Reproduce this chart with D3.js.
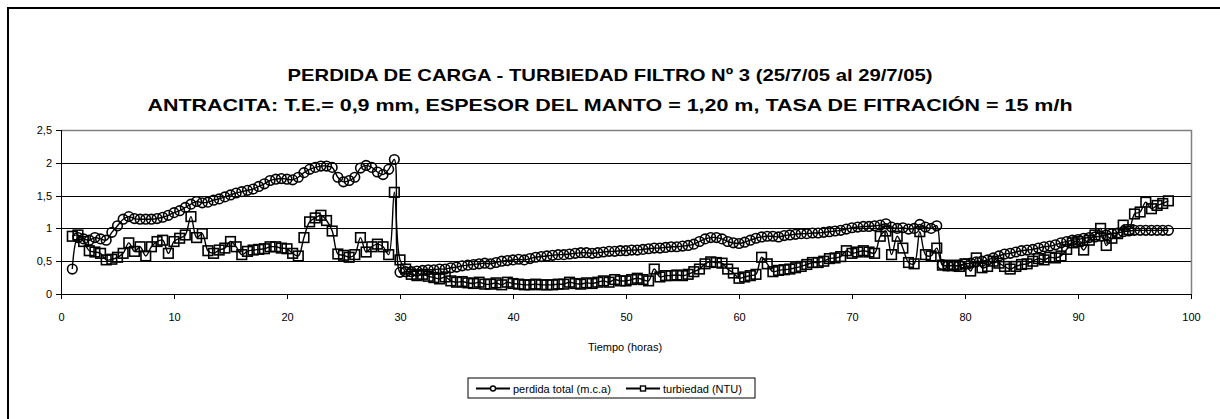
<!DOCTYPE html>
<meta charset="utf-8">
<style>
body { margin: 0; background: #fff; }
svg text { font-family: "Liberation Sans", Arial, sans-serif; fill: #000; }
.title { font-weight: bold; font-size: 17px; }
.tick text { font-size: 11px; }
.axis path, .axis line { stroke: #000; shape-rendering: crispEdges; }
.grid line { stroke: #000; shape-rendering: crispEdges; }
.serie { fill: none; stroke: #000; stroke-width: 1.4px; }
.mark { fill: none; stroke: #000; stroke-width: 1.6px; }
</style>
<svg width="1220" height="419"></svg>
<script src="https://cdn.jsdelivr.net/npm/d3@7"></script>
<script>

// tiempo (horas)
let horas = [
  1, 1.5, 2, 2.5, 3, 3.5, 4, 4.5, 5, 5.5, 6, 6.5, 7, 7.5, 8, 8.5, 9, 9.5, 10, 10.5,
  11, 11.5, 12, 12.5, 13, 13.5, 14, 14.5, 15, 15.5, 16, 16.5, 17, 17.5, 18, 18.5, 19, 19.5, 20, 20.5,
  21, 21.5, 22, 22.5, 23, 23.5, 24, 24.5, 25, 25.5, 26, 26.5, 27, 27.5, 28, 28.5, 29, 29.5, 30, 30.5,
  31, 31.5, 32, 32.5, 33, 33.5, 34, 34.5, 35, 35.5, 36, 36.5, 37, 37.5, 38, 38.5, 39, 39.5, 40, 40.5,
  41, 41.5, 42, 42.5, 43, 43.5, 44, 44.5, 45, 45.5, 46, 46.5, 47, 47.5, 48, 48.5, 49, 49.5, 50, 50.5,
  51, 51.5, 52, 52.5, 53, 53.5, 54, 54.5, 55, 55.5, 56, 56.5, 57, 57.5, 58, 58.5, 59, 59.5, 60, 60.5,
  61, 61.5, 62, 62.5, 63, 63.5, 64, 64.5, 65, 65.5, 66, 66.5, 67, 67.5, 68, 68.5, 69, 69.5, 70, 70.5,
  71, 71.5, 72, 72.5, 73, 73.5, 74, 74.5, 75, 75.5, 76, 76.5, 77, 77.5, 78, 78.5, 79, 79.5, 80, 80.5,
  81, 81.5, 82, 82.5, 83, 83.5, 84, 84.5, 85, 85.5, 86, 86.5, 87, 87.5, 88, 88.5, 89, 89.5, 90, 90.5,
  91, 91.5, 92, 92.5, 93, 93.5, 94, 94.5, 95, 95.5, 96, 96.5, 97, 97.5, 98
];

// perdida total (m.c.a)
let perdida = [
  0.38, 0.86, 0.84, 0.82, 0.86, 0.84, 0.82, 0.94, 1.04, 1.14, 1.18, 1.15, 1.14, 1.14, 1.14, 1.15, 1.17, 1.20, 1.24, 1.27,
  1.32, 1.37, 1.41, 1.39, 1.40, 1.43, 1.45, 1.48, 1.51, 1.54, 1.56, 1.58, 1.60, 1.64, 1.68, 1.73, 1.75, 1.76, 1.75, 1.74,
  1.78, 1.85, 1.90, 1.93, 1.95, 1.95, 1.93, 1.78, 1.71, 1.73, 1.78, 1.92, 1.96, 1.93, 1.86, 1.82, 1.90, 2.05, 0.33, 0.34,
  0.34, 0.35, 0.36, 0.37, 0.37, 0.38, 0.38, 0.40, 0.41, 0.43, 0.44, 0.45, 0.46, 0.47, 0.46, 0.48, 0.50, 0.51, 0.52, 0.53,
  0.52, 0.54, 0.56, 0.57, 0.58, 0.59, 0.60, 0.60, 0.61, 0.62, 0.63, 0.63, 0.62, 0.63, 0.64, 0.65, 0.65, 0.66, 0.66, 0.67,
  0.67, 0.68, 0.69, 0.70, 0.70, 0.71, 0.72, 0.72, 0.73, 0.74, 0.76, 0.80, 0.84, 0.86, 0.86, 0.84, 0.80, 0.78, 0.77, 0.79,
  0.82, 0.85, 0.87, 0.88, 0.88, 0.87, 0.89, 0.90, 0.91, 0.92, 0.92, 0.93, 0.93, 0.94, 0.95, 0.96, 0.97, 0.99, 1.01, 1.02,
  1.03, 1.03, 1.04, 1.05, 1.07, 1.02, 1.00, 1.01, 0.99, 1.00, 1.06, 1.02, 1.00, 1.04, 0.45, 0.43, 0.43, 0.44, 0.46, 0.47,
  0.49, 0.50, 0.52, 0.55, 0.58, 0.61, 0.62, 0.64, 0.66, 0.67, 0.68, 0.70, 0.72, 0.73, 0.75, 0.78, 0.80, 0.82, 0.83, 0.85,
  0.86, 0.87, 0.88, 0.90, 0.92, 0.93, 0.95, 0.96, 0.97, 0.97, 0.97, 0.97, 0.97, 0.97, 0.97
];

// turbiedad (NTU)
let turbiedad = [
  0.88, 0.90, 0.80, 0.66, 0.64, 0.62, 0.52, 0.53, 0.56, 0.62, 0.78, 0.65, 0.72, 0.58, 0.72, 0.80, 0.82, 0.62, 0.80, 0.85,
  0.90, 1.18, 0.86, 0.92, 0.66, 0.62, 0.67, 0.70, 0.80, 0.72, 0.60, 0.65, 0.67, 0.68, 0.69, 0.72, 0.72, 0.70, 0.69, 0.62,
  0.58, 0.86, 1.10, 1.16, 1.20, 1.12, 0.96, 0.61, 0.59, 0.56, 0.60, 0.86, 0.64, 0.72, 0.76, 0.72, 0.60, 1.55, 0.52, 0.38,
  0.30, 0.28, 0.30, 0.27, 0.25, 0.23, 0.26, 0.20, 0.18, 0.19, 0.17, 0.16, 0.18, 0.15, 0.15, 0.17, 0.14, 0.18, 0.16, 0.15,
  0.14, 0.14, 0.15, 0.14, 0.14, 0.14, 0.15, 0.15, 0.18, 0.16, 0.15, 0.17, 0.16, 0.18, 0.20, 0.18, 0.22, 0.20, 0.20, 0.22,
  0.24, 0.22, 0.20, 0.38, 0.26, 0.28, 0.28, 0.29, 0.28, 0.30, 0.34, 0.38, 0.46, 0.49, 0.48, 0.47, 0.38, 0.32, 0.24, 0.26,
  0.28, 0.30, 0.56, 0.46, 0.34, 0.36, 0.37, 0.38, 0.40, 0.42, 0.45, 0.48, 0.48, 0.50, 0.54, 0.55, 0.57, 0.66, 0.62, 0.64,
  0.66, 0.64, 0.62, 0.88, 0.96, 0.60, 0.88, 0.70, 0.48, 0.46, 0.95, 0.60, 0.58, 0.70, 0.44, 0.43, 0.44, 0.42, 0.46, 0.35,
  0.55, 0.40, 0.42, 0.50, 0.47, 0.42, 0.38, 0.42, 0.45, 0.46, 0.50, 0.54, 0.52, 0.56, 0.55, 0.58, 0.68, 0.78, 0.80, 0.67,
  0.82, 0.90, 1.00, 0.74, 0.85, 0.92, 1.05, 0.98, 1.22, 1.25, 1.40, 1.30, 1.35, 1.38, 1.42
];

let xTicks = [0, 10, 20, 30, 40, 50, 60, 70, 80, 90, 100];
let yTicks = [0, 0.5, 1, 1.5, 2, 2.5];

let titulo1 = "PERDIDA DE CARGA - TURBIEDAD FILTRO Nº 3 (25/7/05 al 29/7/05)";
let titulo2 = "ANTRACITA: T.E.= 0,9 mm, ESPESOR DEL MANTO = 1,20 m, TASA DE FITRACIÓN = 15 m/h";
let nombres = ["perdida total (m.c.a)", "turbiedad (NTU)"];

let svg = d3.select("svg"),
    margin = {top: 130, right: 29, bottom: 125, left: 61},
    width = 1220 - margin.left - margin.right,
    height = 419 - margin.top - margin.bottom;

// outer frame of the chart (cut at right and bottom)
svg.append("rect")
    .attr("x", 8).attr("y", 8)
    .attr("width", 1240).attr("height", 440)
    .attr("fill", "none")
    .attr("stroke", "#000")
    .attr("stroke-width", 2);

svg.append("text").attr("class", "title")
    .attr("x", 610).attr("y", 81)
    .attr("text-anchor", "middle")
    .attr("textLength", 645).attr("lengthAdjust", "spacingAndGlyphs")
    .text(titulo1);

svg.append("text").attr("class", "title")
    .attr("x", 610).attr("y", 111)
    .attr("text-anchor", "middle")
    .attr("textLength", 925).attr("lengthAdjust", "spacingAndGlyphs")
    .text(titulo2);

let g = svg.append("g").attr("transform", "translate(" + margin.left + "," + margin.top + ")");

let x = d3.scaleLinear().domain([0, 100]).range([0, width]),
    y = d3.scaleLinear().domain([0, 2.5]).range([height, 0]);

let fmt = d3.format(".1f");
let coma = function(d) { return d % 1 === 0 ? String(d) : fmt(d).replace(".", ","); };

// gridlines
g.append("g").attr("class", "grid")
  .selectAll("line")
  .data(yTicks.filter(function(d) { return d > 0 && d < 2.5; }))
  .enter().append("line")
    .attr("x1", 0).attr("x2", width)
    .attr("y1", function(d) { return Math.round(y(d)) + 0.5; })
    .attr("y2", function(d) { return Math.round(y(d)) + 0.5; });

// plot border top and right (grey)
g.append("path")
    .attr("d", "M0.5,0.5H" + (width + 0.5) + "V" + height)
    .attr("fill", "none")
    .attr("stroke", "#808080")
    .attr("stroke-width", 1.5);

g.append("g")
    .attr("class", "axis axis--x")
    .attr("transform", "translate(0," + height + ")")
    .call(d3.axisBottom(x).tickValues(xTicks).tickSize(5).tickPadding(14).tickFormat(coma));

g.append("g")
    .attr("class", "axis axis--y")
    .call(d3.axisLeft(y).tickValues(yTicks).tickSize(5).tickPadding(4).tickFormat(coma));

g.selectAll(".axis path").attr("stroke", "#444").attr("stroke-width", 1.5);
g.selectAll(".axis line").attr("stroke", "#444");

svg.append("text")
    .attr("x", 625).attr("y", 351)
    .attr("text-anchor", "middle")
    .style("font-size", "11px")
    .text("Tiempo (horas)");

let line = d3.line()
    .curve(d3.curveCatmullRom.alpha(0.5))
    .x(function(d) { return x(d.t); })
    .y(function(d) { return y(d.v); });

let series = [
    {id: "perdida", values: horas.map(function(t, i) { return {t: t, v: perdida[i]}; })},
    {id: "turbiedad", values: horas.map(function(t, i) { return {t: t, v: turbiedad[i]}; })}
];

series.forEach(function(s) {
    g.append("path").attr("class", "serie").attr("d", line(s.values));
});

// markers
g.selectAll(".circ")
  .data(series[0].values)
  .enter().append("circle")
    .attr("class", "mark")
    .attr("cx", function(d) { return x(d.t); })
    .attr("cy", function(d) { return y(d.v); })
    .attr("r", 4.8);

g.selectAll(".sq")
  .data(series[1].values)
  .enter().append("rect")
    .attr("class", "mark")
    .attr("x", function(d) { return x(d.t) - 4.8; })
    .attr("y", function(d) { return y(d.v) - 4.8; })
    .attr("width", 9.6).attr("height", 9.6);

// legend
let lg = svg.append("g").attr("transform", "translate(468,378)");
lg.append("rect")
    .attr("width", 287).attr("height", 20)
    .attr("fill", "#fff").attr("stroke", "#000");

let items = [{x: 8, tipo: "c"}, {x: 158, tipo: "s"}];
items.forEach(function(it, i) {
    lg.append("line")
        .attr("x1", it.x).attr("x2", it.x + 34)
        .attr("y1", 10.5).attr("y2", 10.5)
        .attr("stroke", "#000").attr("stroke-width", 1.8);
    if (it.tipo === "c") {
        lg.append("circle").attr("cx", it.x + 17).attr("cy", 10.5).attr("r", 2.5)
            .attr("fill", "#fff").attr("stroke", "#000").attr("stroke-width", 1.4);
    } else {
        lg.append("rect").attr("x", it.x + 14.5).attr("y", 8).attr("width", 5).attr("height", 5)
            .attr("fill", "#fff").attr("stroke", "#000").attr("stroke-width", 1.4);
    }
    lg.append("text")
        .attr("x", it.x + 37).attr("y", 14.5)
        .style("font-size", "11px")
        .text(nombres[i]);
});

</script>
